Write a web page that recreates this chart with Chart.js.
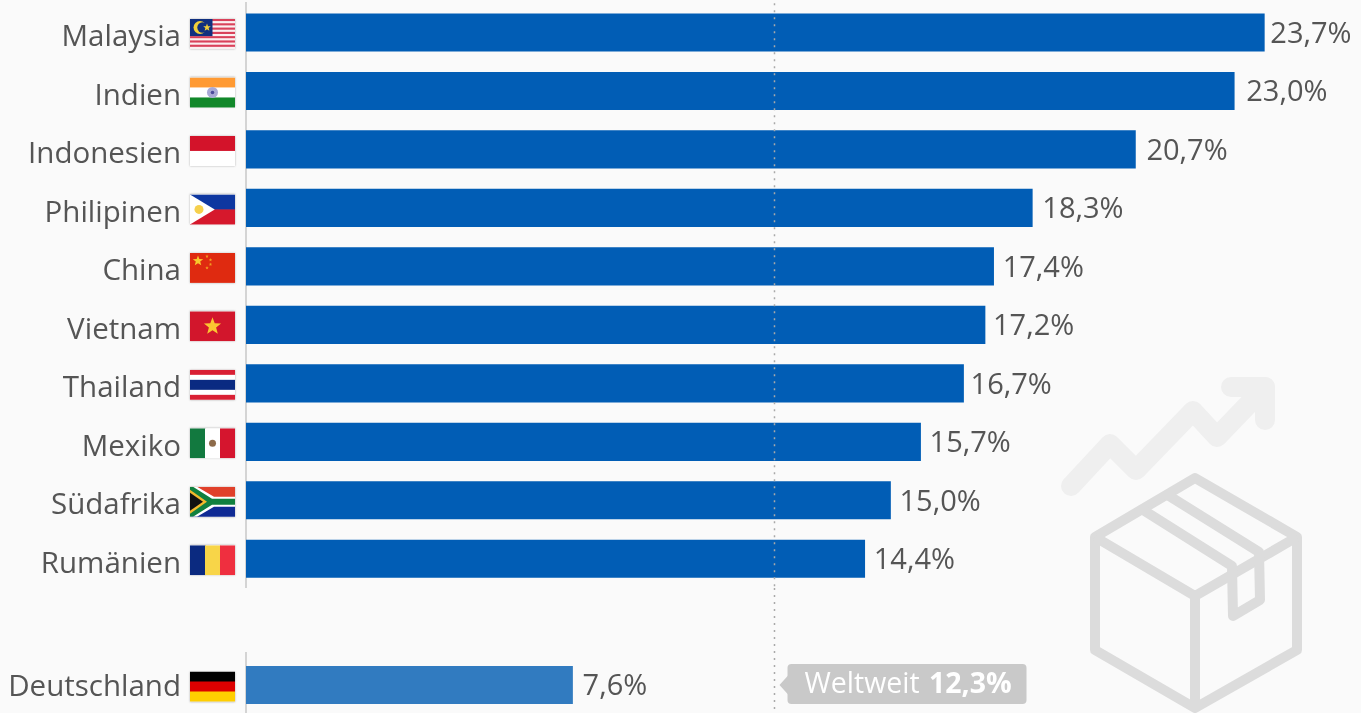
<!DOCTYPE html>
<html lang="de">
<head>
<meta charset="utf-8">
<title>Weltweit 12,3%</title>
<script src="https://cdn.jsdelivr.net/npm/chart.js@4"></script>
<style>
    html, body { margin: 0; padding: 0; background: #fafafa; overflow: hidden; }
    #stage { position: relative; width: 1361px; height: 713px; overflow: hidden; }
    #stage canvas, #stage svg { position: absolute; left: 0; }
    #icons { top: 0; }
    #topChart { top: 0; }
    #bottomChart { top: 588px; }
</style>
</head>
<body>
<div id="stage">
    <!-- Hintergrund: Pfeil und Paket -->
    <svg id="icons" width="1361" height="713" fill="none" stroke-linejoin="round">
        <g stroke="#efefef" stroke-width="20" stroke-linecap="round">
            <path d="M1071 486 L1110 444 L1136 470 L1193 411 L1217 437 L1265 387"/>
            <path d="M1231 387 L1265 387 L1265 420"/>
        </g>
        <g stroke="#dcdcdc" stroke-width="10">
            <path d="M1195 478 L1297 537 L1297 650 L1195 708 L1095 650 L1095 537 Z"/>
            <path d="M1095 537 L1195 596 L1297 537 M1195 596 L1195 708"/>
            <path d="M1140 508 L1232 566 L1233 616 L1260 600 L1259 552 L1166 494"/>
        </g>
    </svg>
    <canvas id="topChart" width="1361" height="588"></canvas>
    <canvas id="bottomChart" width="1361" height="129"></canvas>
</div>

<script>
const categories = ['Malaysia', 'Indien', 'Indonesien', 'Philipinen', 'China', 'Vietnam', 'Thailand', 'Mexiko', 'Südafrika', 'Rumänien'];
const values = [23.7, 23.0, 20.7, 18.3, 17.4, 17.2, 16.7, 15.7, 15.0, 14.4];
const homeCategories = ['Deutschland'];
const homeValues = [7.6];
const worldValue = 12.3;
const worldLabel = 'Weltweit';

const FONT = '"Open Sans"';
const TEXT_COLOR = '#555555';

function fmt(v) {
    return v.toFixed(1).replace('.', ',') + '%';
}

// Streifen von oben nach unten
function hStripes(ctx, x, y, w, h, colors) {
    const sh = h / colors.length;
    colors.forEach((c, i) => {
        ctx.fillStyle = c;
        ctx.fillRect(x, y + i * sh, w, sh + 0.5);
    });
}

function vStripes(ctx, x, y, w, h, colors) {
    const sw = w / colors.length;
    colors.forEach((c, i) => {
        ctx.fillStyle = c;
        ctx.fillRect(x + i * sw, y, sw + 0.5, h);
    });
}

function poly(ctx, color, pts) {
    ctx.fillStyle = color;
    ctx.beginPath();
    pts.forEach((p, i) => i ? ctx.lineTo(p[0], p[1]) : ctx.moveTo(p[0], p[1]));
    ctx.closePath();
    ctx.fill();
}

function star(ctx, cx, cy, r, color) {
    const pts = [];
    for (let i = 0; i < 10; i++) {
        const a = -Math.PI / 2 + i * Math.PI / 5;
        const rad = i % 2 ? r * 0.42 : r;
        pts.push([cx + Math.cos(a) * rad, cy + Math.sin(a) * rad]);
    }
    poly(ctx, color, pts);
}

function dot(ctx, cx, cy, r, color) {
    ctx.fillStyle = color;
    ctx.beginPath();
    ctx.arc(cx, cy, r, 0, Math.PI * 2);
    ctx.fill();
}

const flags = {
    Malaysia(ctx, x, y, w, h) {
        const cols = [];
        for (let i = 0; i < 14; i++) cols.push(i % 2 ? '#fbeff0' : '#d9415a');
        hStripes(ctx, x, y, w, h, cols);
        ctx.fillStyle = '#10307f';
        ctx.fillRect(x, y, w * 0.5, h * 0.57);
        dot(ctx, x + 10, y + 8.5, 6.5, '#f0cf3a');
        dot(ctx, x + 12.5, y + 8.5, 5.2, '#10307f');
        star(ctx, x + 17, y + 8.5, 4, '#f0cf3a');
    },
    Indien(ctx, x, y, w, h) {
        hStripes(ctx, x, y, w, h, ['#ff9a33', '#ffffff', '#12882a']);
        dot(ctx, x + w / 2, y + h / 2, 5.5, '#a9a9d6');
        dot(ctx, x + w / 2, y + h / 2, 1.8, '#4b4b9c');
    },
    Indonesien(ctx, x, y, w, h) {
        hStripes(ctx, x, y, w, h, ['#d3132a', '#ffffff']);
    },
    Philipinen(ctx, x, y, w, h) {
        hStripes(ctx, x, y, w, h, ['#0e37a0', '#d6182c']);
        poly(ctx, '#ffffff', [[x, y], [x + w * 0.55, y + h / 2], [x, y + h]]);
        dot(ctx, x + 9, y + h / 2, 4.5, '#f6d04d');
    },
    China(ctx, x, y, w, h) {
        ctx.fillStyle = '#df2a10';
        ctx.fillRect(x, y, w, h);
        star(ctx, x + 8, y + 8, 5.5, '#f8c82c');
        star(ctx, x + 17, y + 3.5, 1.8, '#f3a020');
        star(ctx, x + 20.5, y + 7, 1.8, '#f3a020');
        star(ctx, x + 20.5, y + 11.5, 1.8, '#f3a020');
        star(ctx, x + 17, y + 15, 1.8, '#f3a020');
    },
    Vietnam(ctx, x, y, w, h) {
        ctx.fillStyle = '#d2162c';
        ctx.fillRect(x, y, w, h);
        star(ctx, x + w / 2, y + h / 2, 9, '#fbc531');
    },
    Thailand(ctx, x, y, w, h) {
        hStripes(ctx, x, y, w, h, ['#d92034', '#ffffff', '#0a2a82', '#0a2a82', '#ffffff', '#d92034']);
    },
    Mexiko(ctx, x, y, w, h) {
        vStripes(ctx, x, y, w, h, ['#12793f', '#ffffff', '#d5152e']);
        dot(ctx, x + w / 2, y + h / 2, 3.5, '#8d6b4a');
    },
    Südafrika(ctx, x, y, w, h) {
        hStripes(ctx, x, y, w, h, ['#e0402a', '#0f2a94']);
        poly(ctx, '#ffffff', [[x, y], [x + 7, y], [x + 24, y + 10], [x + w, y + 10], [x + w, y + 20], [x + 24, y + 20], [x + 7, y + h], [x, y + h]]);
        poly(ctx, '#10803f', [[x, y], [x + 3, y], [x + 22, y + 12], [x + w, y + 12], [x + w, y + 18], [x + 22, y + 18], [x + 3, y + h], [x, y + h]]);
        poly(ctx, '#f2b92c', [[x, y + 3], [x + 17, y + h / 2], [x, y + h - 3]]);
        poly(ctx, '#111111', [[x, y + 6], [x + 13, y + h / 2], [x, y + h - 6]]);
    },
    Rumänien(ctx, x, y, w, h) {
        vStripes(ctx, x, y, w, h, ['#0b2a80', '#f8d548', '#ef2f3f']);
    },
    Deutschland(ctx, x, y, w, h) {
        hStripes(ctx, x, y, w, h, ['#000000', '#dd0000', '#ffce00']);
    }
};

// Flagge links neben jeder Achsenbeschriftung
const flagPlugin = {
    id: 'flagPlugin',
    afterDraw(chart) {
        const ctx = chart.ctx;
        const yScale = chart.scales.y;
        chart.data.labels.forEach((name, i) => {
            const cy = yScale.getPixelForTick(i) + 1.5;
            ctx.save();
            ctx.shadowColor = 'rgba(0,0,0,0.3)';
            ctx.shadowBlur = 2;
            ctx.fillStyle = '#fff';
            ctx.fillRect(190, cy - 15, 45, 30);
            ctx.restore();
            ctx.save();
            ctx.beginPath();
            ctx.rect(190, cy - 15, 45, 30);
            ctx.clip();
            flags[name](ctx, 190, cy - 15, 45, 30);
            ctx.restore();
        });
    }
};

// Werte rechts neben den Balken
const valueLabelPlugin = {
    id: 'valueLabelPlugin',
    afterDatasetsDraw(chart) {
        const ctx = chart.ctx;
        const meta = chart.getDatasetMeta(0);
        const gaps = chart.options.plugins.valueLabelPlugin.gaps;
        ctx.save();
        ctx.font = '29px ' + FONT;
        ctx.fillStyle = TEXT_COLOR;
        ctx.textBaseline = 'middle';
        meta.data.forEach((bar, i) => {
            ctx.fillText(fmt(chart.data.datasets[0].data[i]), bar.x + gaps[i], bar.y + 2);
        });
        ctx.restore();
    }
};

// gepunktete Linie beim weltweiten Wert
const worldLinePlugin = {
    id: 'worldLinePlugin',
    afterDatasetsDraw(chart) {
        const ctx = chart.ctx;
        const x = chart.scales.x.getPixelForValue(worldValue);
        const top = chart.options.plugins.worldLinePlugin.fromCanvasTop ? 0 : chart.chartArea.top;
        ctx.save();
        ctx.strokeStyle = '#a9a9a9';
        ctx.lineWidth = 1.5;
        ctx.setLineDash([2, 5]);
        ctx.beginPath();
        ctx.moveTo(x, top);
        ctx.lineTo(x, chart.height);
        ctx.stroke();
        ctx.restore();
    }
};

// Hinweisfeld "Weltweit" neben der Linie
const worldTagPlugin = {
    id: 'worldTagPlugin',
    afterDatasetsDraw(chart) {
        const ctx = chart.ctx;
        const lineX = chart.scales.x.getPixelForValue(worldValue);
        const cy = chart.scales.y.getPixelForTick(0);
        const left = lineX + 13;
        ctx.save();
        ctx.fillStyle = '#c9c9c9';
        ctx.beginPath();
        ctx.roundRect(left, cy - 21, 239, 40, 4);
        ctx.fill();
        poly(ctx, '#c9c9c9', [[left + 1, cy - 10], [left - 8, cy], [left + 1, cy + 10]]);
        ctx.fillStyle = '#ffffff';
        ctx.textBaseline = 'middle';
        ctx.font = '28.5px ' + FONT;
        const plain = worldLabel + ' ';
        ctx.fillText(plain, left + 17, cy);
        const w = ctx.measureText(plain).width;
        ctx.font = 'bold 28.5px ' + FONT;
        ctx.fillText(fmt(worldValue), left + 19 + w, cy);
        ctx.restore();
    }
};

function buildChart(id, labels, data, color, paddingTop, labelOffset, pluginOpts, plugins) {
    return new Chart(document.getElementById(id), {
        type: 'bar',
        data: {
            labels: labels,
            datasets: [{
                data: data,
                backgroundColor: color,
                barThickness: 37.5,
                borderWidth: 0
            }]
        },
        options: {
            indexAxis: 'y',
            responsive: false,
            animation: false,
            events: [],
            layout: { padding: { top: paddingTop, right: 0, bottom: 0, left: 0 } },
            scales: {
                x: {
                    display: false,
                    min: 0,
                    max: 25.95
                },
                y: {
                    // feste Achsenbreite, der Tick-Abstand soll oben und unten nichts einruecken
                    afterFit(scale) {
                        scale.width = 246;
                        scale.paddingTop = 0;
                        scale.paddingBottom = 0;
                    },
                    grid: { display: false, drawTicks: false },
                    border: { display: true, color: '#d4d4d4', width: 2 },
                    ticks: {
                        padding: 65,
                        labelOffset: labelOffset,
                        color: TEXT_COLOR,
                        font: { family: FONT, size: 29.5 }
                    }
                }
            },
            plugins: Object.assign({ legend: { display: false }, tooltip: { enabled: false } }, pluginOpts)
        },
        plugins: plugins
    });
}

buildChart('topChart', categories, values, '#015db5', 3.25, 5.5, {
    valueLabelPlugin: { gaps: [6, 12, 11, 10, 9, 8, 7, 9, 9, 9] },
    worldLinePlugin: { fromCanvasTop: false }
}, [worldLinePlugin, flagPlugin, valueLabelPlugin]);

buildChart('bottomChart', homeCategories, homeValues, '#317bc0', 65, 3, {
    valueLabelPlugin: { gaps: [10] },
    worldLinePlugin: { fromCanvasTop: true }
}, [worldLinePlugin, flagPlugin, valueLabelPlugin, worldTagPlugin]);
</script>
</body>
</html>
